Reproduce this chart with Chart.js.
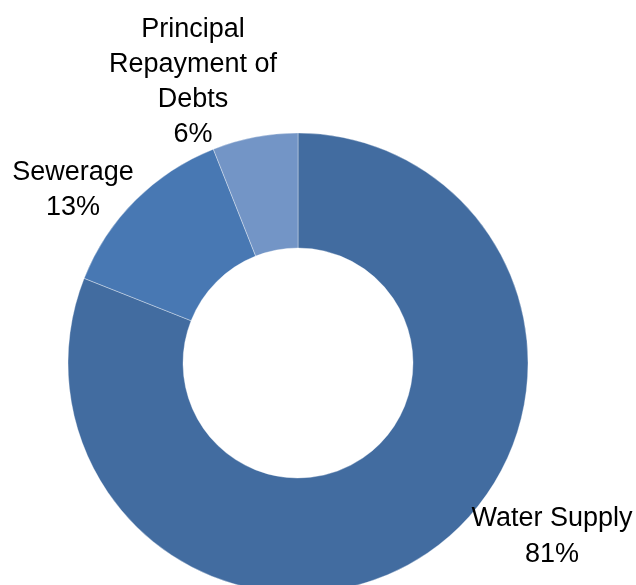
<!DOCTYPE html>
<html>
<head>
<meta charset="utf-8">
<script src="https://cdn.jsdelivr.net/npm/chart.js@4"></script>
<style>
  html, body { margin: 0; padding: 0; background: #fff; }
  canvas { display: block; }
</style>
</head>
<body>
<canvas id="chart" width="636" height="585"></canvas>
<script>
// spending breakdown, drawn clockwise from 12 o'clock
const categories = ['Water Supply', 'Sewerage', 'Principal Repayment of Debts'];
const shares = [81, 13, 6];
const labelLines = [
  ['Water Supply', '81%'],
  ['Sewerage', '13%'],
  ['Principal', 'Repayment of', 'Debts', '6%']
];
const colors = ['#426ca0', '#4878b3', '#7395c6'];

// where each label block sits (centre x, first baseline y)
const labelSpots = [
  { x: 552, y: 526, gap: 36 },
  { x: 73, y: 180, gap: 35 },
  { x: 193, y: 37, gap: 35 }
];

const outsideLabels = {
  id: 'outsideLabels',
  afterDraw(chart) {
    const ctx = chart.ctx;
    ctx.save();
    ctx.font = '27px "Liberation Sans", Arial, sans-serif';
    ctx.fillStyle = '#000';
    ctx.textAlign = 'center';
    ctx.textBaseline = 'alphabetic';
    labelLines.forEach(function(lines, i) {
      const spot = labelSpots[i];
      lines.forEach(function(line, j) {
        ctx.fillText(line, spot.x, spot.y + j * spot.gap);
      });
    });
    ctx.restore();
  }
};

new Chart(document.getElementById('chart'), {
  type: 'doughnut',
  data: {
    labels: categories,
    datasets: [{
      data: shares,
      backgroundColor: colors,
      borderColor: 'rgba(255,255,255,0.35)',
      borderWidth: 1
    }]
  },
  options: {
    responsive: false,
    animation: false,
    radius: 230,
    cutout: '50%',
    layout: { padding: { top: 141, right: 40, bottom: 0, left: 0 } },
    plugins: {
      legend: { display: false },
      tooltip: { enabled: false }
    }
  },
  plugins: [outsideLabels]
});
</script>
</body>
</html>
